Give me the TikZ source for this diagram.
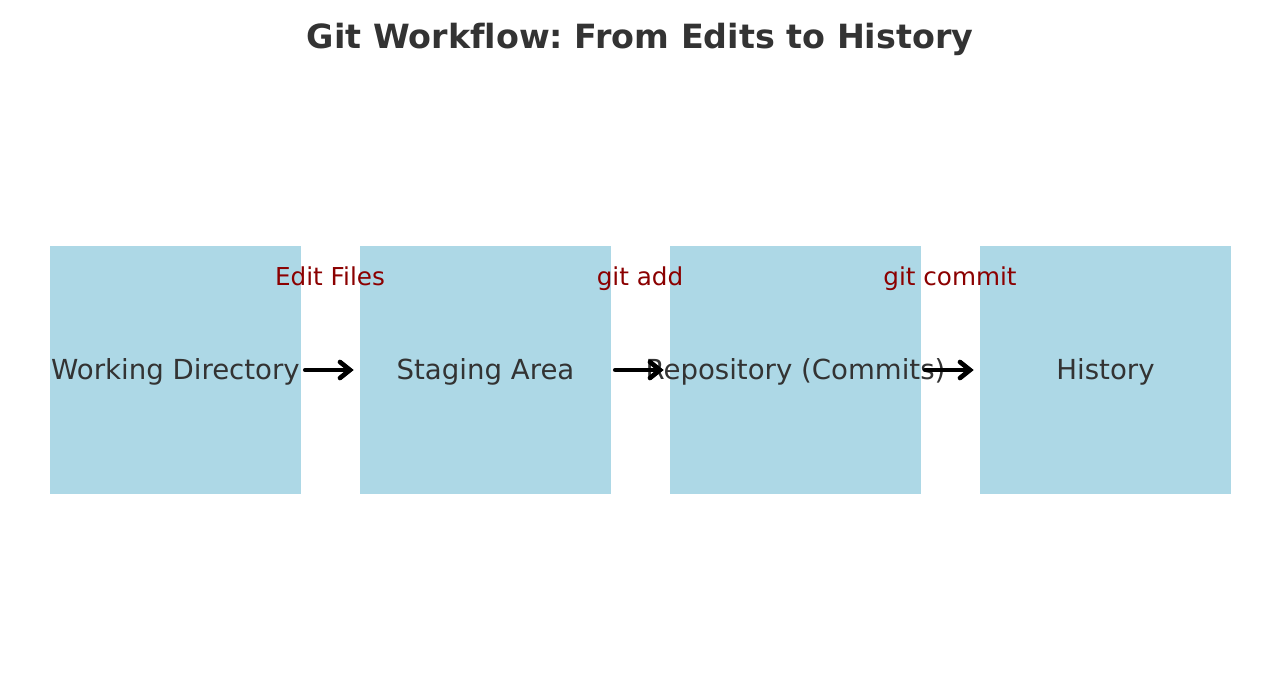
\documentclass[tikz,border=0pt]{standalone}
\usepackage{fontspec}
\setmainfont{DejaVu Sans}[Ligatures={NoCommon}]
\usetikzlibrary{arrows.meta}
\definecolor{boxblue}{RGB}{173,216,230}
\definecolor{labred}{RGB}{139,0,0}
\definecolor{txtgray}{RGB}{51,51,51}
\frenchspacing
\tikzset{
  stagebox/.style={fill=boxblue,inner sep=0pt,minimum width=188.25pt,minimum height=186pt},
  stagetext/.style={anchor=base,text=txtgray,font=\fontsize{20.7}{24}\selectfont},
  edgelab/.style={anchor=base,text=labred,font=\fontsize{18.5}{22}\selectfont},
  flow/.style={line width=3.5pt,line cap=round,-{Straight Barb[length=7.5pt,width=12pt,line cap=round]},shorten <=3pt,shorten >=4.5pt}
}
\begin{document}
\begin{tikzpicture}[x=0.75pt,y=-0.75pt]
\fill[white] (0,0) rectangle (1280,698);
\useasboundingbox (0,0) rectangle (1280,698);
% Title
\node[anchor=base,text=txtgray,font=\fontsize{25}{30}\selectfont\bfseries] (title) at (640,49) {Git Workflow: From Edits to History};
% Stage boxes
\foreach \x/\n in {175.5/wd,485.5/sa,795.5/repo,1105.5/hist} {
  \node[stagebox] (\n) at (\x,370) {};
}
% Box labels
\node[stagetext] (wdt) at (175.5,379.5) {Working Directory};
\node[stagetext] (sat) at (485.5,379.5) {Staging Area};
\node[stagetext] (repot) at (795.5,379.5) {Repository (Commits)};
\node[stagetext] (histt) at (1105.5,379.5) {History};
% Arrows between stages
\draw[flow] (wd.east) -- (sa.west);
\draw[flow] (sa.east) -- (repo.west);
\draw[flow] (repo.east) -- (hist.west);
% Arrow labels
\node[edgelab] (l1) at (330,286) {Edit Files};
\node[edgelab] (l2) at (640,286) {git add};
\node[edgelab] (l3) at (950,286) {git commit};
\end{tikzpicture}
\end{document}
